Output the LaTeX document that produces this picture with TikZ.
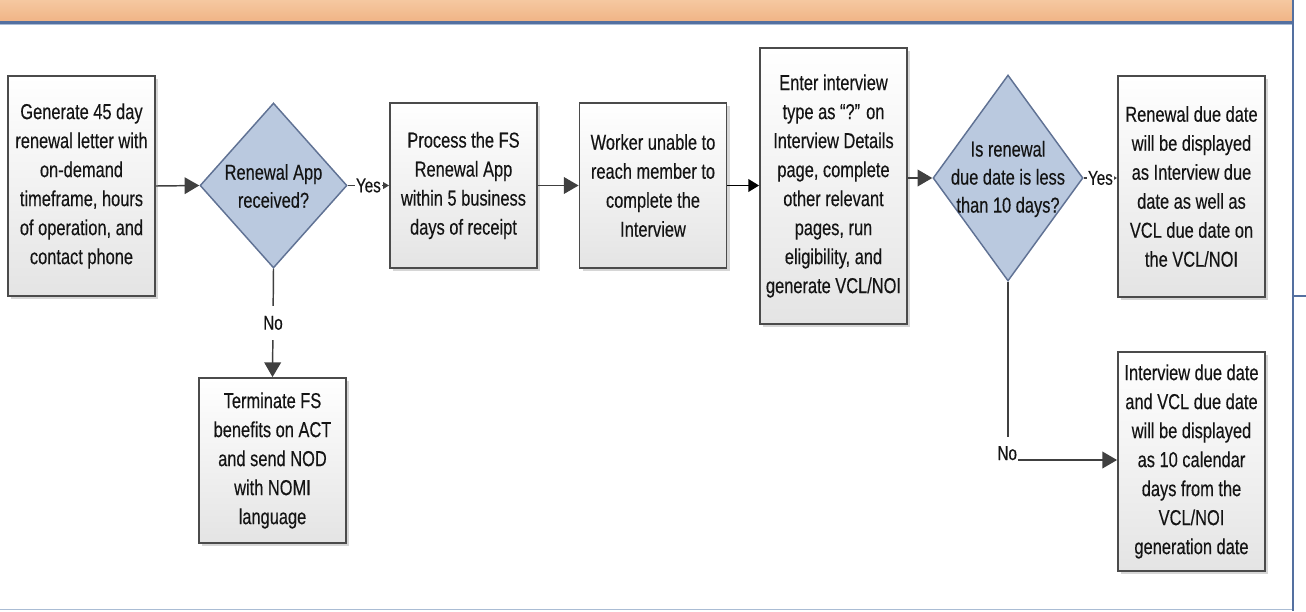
\documentclass[tikz,border=0pt]{standalone}
\usepackage{fontspec}
\setmainfont{Liberation Sans}[FakeStretch=0.76, FakeBold=0.3]
\usetikzlibrary{arrows.meta,shapes.geometric,shadows}
\definecolor{hdrTop}{RGB}{245,200,160}
\definecolor{hdrBot}{RGB}{240,180,134}
\definecolor{frameBlue}{RGB}{84,112,160}
\definecolor{frameLight}{RGB}{170,188,212}
\definecolor{boxBorder}{RGB}{75,75,75}
\definecolor{boxBot}{RGB}{228,228,228}
\definecolor{diaFill}{RGB}{186,201,223}
\definecolor{diaLine}{RGB}{96,114,148}
\definecolor{lineCol}{RGB}{64,64,64}
\definecolor{txtCol}{RGB}{20,20,20}
\tikzset{
  proc/.style={draw=boxBorder, line width=1.4pt, top color=white, bottom color=boxBot,
    minimum width=110.25pt, inner sep=0pt, align=center, text=txtCol,
    font=\fontsize{16.2pt}{21.75pt}\selectfont,
    drop shadow={shadow xshift=2.6pt, shadow yshift=-2.6pt, fill=black!16, opacity=1}},
  dec/.style={diamond, draw=diaLine, line width=1.1pt, fill=diaFill, inner sep=0pt},
  dectext/.style={align=center, text=txtCol, inner sep=0pt, font=\fontsize{16.2pt}{21pt}\selectfont},
  conn/.style={draw=lineCol, line width=1.1pt},
  bigarrow/.style={conn, -{Triangle[length=11pt,width=12.5pt]}},
  midarrow/.style={draw=black, line width=1.1pt, -{Triangle[length=8pt,width=9.5pt]}},
  smallarrow/.style={conn, -{Triangle[length=4.5pt,width=5pt]}},
  lbl/.style={text=txtCol, font=\fontsize{15pt}{17pt}\selectfont, inner sep=0.6pt},
}
\begin{document}
\begin{tikzpicture}[x=0.75pt,y=-0.75pt]
\useasboundingbox (0,0) rectangle (1306,611);
% frame
\shade[top color=hdrTop, bottom color=hdrBot] (0,0) rectangle (1292,21.5);
\draw[frameBlue, line width=1.6pt] (0,22.5) -- (1292,22.5);
\draw[frameLight, line width=0.8pt] (0,24.6) -- (1292,24.6);
\draw[frameBlue, line width=1.4pt] (1293,0) -- (1293,611);
\draw[frameLight, line width=1.4pt] (0,609.5) -- (1292,609.5);
\draw[frameBlue, line width=1.1pt] (1293,296) -- (1306,296);

% nodes
\node[proc, minimum height=165pt] (b1) at (81.5,186)
  {Generate 45 day\\renewal letter with\\on-demand\\timeframe, hours\\of operation, and\\contact phone};
\node[dec, minimum width=110.25pt, minimum height=123.75pt] (d1) at (273.5,185.5) {};
\node[dectext] (d1t) at (273.5,186) {Renewal App\\received?};
\node[proc, minimum height=123.75pt] (b2) at (463.5,185.5)
  {Process the FS\\Renewal App\\within 5 business\\days of receipt};
\node[proc, minimum height=123.75pt] (b3) at (653,185.5)
  {Worker unable to\\reach member to\\complete the\\Interview};
\node[proc, minimum height=207pt] (b4) at (833.5,186)
  {Enter interview\\type as “?” on\\Interview Details\\page, complete\\other relevant\\pages, run\\eligibility, and\\generate VCL/NOI};
\node[dec, minimum width=112.5pt, minimum height=154.5pt] (d2) at (1008,178) {};
\node[dectext] (d2t) at (1008,179) {Is renewal\\due date is less\\than 10 days?};
\node[proc, minimum height=165.75pt] (b5) at (1191.5,186.5)
  {Renewal due date\\will be displayed\\as Interview due\\date as well as\\VCL due date on\\the VCL/NOI};
\node[proc, minimum height=164.25pt] (b6) at (1191.5,461.5)
  {Interview due date\\and VCL due date\\will be displayed\\as 10 calendar\\days from the\\VCL/NOI\\generation date};
\node[proc, minimum height=123.75pt] (b7) at (272.5,460.5)
  {Terminate FS\\benefits on ACT\\and send NOD\\with NOMI\\language};

% connectors
\draw[bigarrow] (b1.east) -- (d1.west);
\draw[smallarrow] (d1.east) -- node[lbl, fill=white] {Yes} (b2.west);
\draw[bigarrow] (b2.east) -- (b3.east -| b3.west);
\draw[midarrow] (b3.east) -- (b4.west |- b3.east);
\draw[bigarrow] (b4.east |- d2.west) -- (d2.west);
\draw[smallarrow] (d2.east) -- node[lbl, fill=white] {Yes} (b5.west |- d2.east);
\draw[bigarrow] (d1.south) -- node[lbl, fill=white, minimum height=25pt] {No} (b7.north);
\coordinate (c2) at (1008,460);
\node[lbl, anchor=base east] (no2) at ([xshift=7.5pt]c2) {No};
\draw[conn] (d2.south) -- ([yshift=17pt]c2);
\draw[bigarrow] (no2.base east) -- (no2.base east -| b6.west);
\end{tikzpicture}
\end{document}
